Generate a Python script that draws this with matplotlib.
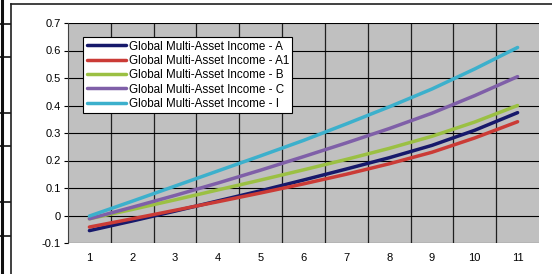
import matplotlib.pyplot as plt
from matplotlib.lines import Line2D

plt.rcParams['font.family'] = ['Liberation Sans', 'DejaVu Sans']

periods = list(range(1, 12))
series_names = [
    "Global Multi-Asset Income - A",
    "Global Multi-Asset Income - A1",
    "Global Multi-Asset Income - B",
    "Global Multi-Asset Income - C",
    "Global Multi-Asset Income - I",
]
a_vals = [-0.055, -0.020, 0.016, 0.053, 0.090, 0.129, 0.169, 0.210, 0.255, 0.310, 0.374]
a1_vals = [-0.042, -0.012, 0.019, 0.050, 0.082, 0.115, 0.150, 0.188, 0.230, 0.282, 0.341]
b_vals = [-0.012, 0.022, 0.057, 0.093, 0.129, 0.166, 0.204, 0.244, 0.288, 0.340, 0.400]
c_vals = [-0.012, 0.030, 0.073, 0.118, 0.165, 0.214, 0.264, 0.316, 0.372, 0.436, 0.505]
i_vals = [-0.002, 0.052, 0.107, 0.162, 0.217, 0.273, 0.333, 0.395, 0.460, 0.533, 0.611]
colors = ["#17196B", "#CB3B36", "#9BC043", "#7F5FA8", "#3CB0CC"]

fig = plt.figure(figsize=(5.52, 2.74), dpi=100)
ax = fig.add_axes([68 / 552, 1 - 243 / 274, 471 / 552, 220 / 274])
ax.set_facecolor("#C0C0C0")

for name, vals, col in zip(series_names, [a_vals, a1_vals, b_vals, c_vals, i_vals], colors):
    ax.plot(periods, vals, color=col, lw=2.5, label=name, solid_capstyle='round')

ax.set_xlim(0.5, 11.5)
ax.set_ylim(-0.1, 0.7)
ax.set_yticks([-0.1, 0, 0.1, 0.2, 0.3, 0.4, 0.5, 0.6, 0.7])
ax.set_yticklabels(["-0.1", "0", "0.1", "0.2", "0.3", "0.4", "0.5", "0.6", "0.7"])
ax.set_xticks(periods)
ax.set_xticklabels([str(p) for p in periods])
ax.set_xticks([p + 0.5 for p in periods[:-1]], minor=True)
ax.tick_params(axis='x', which='both', length=0, labelsize=8, pad=7)
ax.tick_params(axis='y', length=3, width=0.8, labelsize=8, pad=2)

# gridlines
ax.grid(True, axis='y', which='major', color='black', lw=0.8)
ax.grid(True, axis='x', which='minor', color='#202020', lw=0.9)
ax.grid(False, axis='x', which='major')
ax.set_axisbelow(True)

for s in ['top', 'right', 'bottom']:
    ax.spines[s].set_visible(False)
ax.spines['left'].set_color('#404040')
ax.spines['left'].set_linewidth(0.8)

leg = ax.legend(loc='upper left', bbox_to_anchor=(0.032, 0.936), fontsize=8.4,
                frameon=True, fancybox=False, edgecolor='black', framealpha=1,
                handlelength=3.4, handletextpad=0.2, labelspacing=0.2,
                borderpad=0.3, borderaxespad=0)
leg.get_frame().set_linewidth(0.8)

# chart frame and neighbouring cell edges
fig.add_artist(Line2D([11 / 552, 1], [1 - 4 / 274, 1 - 4 / 274], color='#202020', lw=1.2))
fig.add_artist(Line2D([11 / 552, 11 / 552], [0, 1 - 4 / 274], color='#202020', lw=1.2))
fig.add_artist(Line2D([1.5 / 552, 1.5 / 552], [0, 1], color='#101010', lw=2.2))
for yp in [24, 57, 113, 146, 202, 236]:
    fig.add_artist(Line2D([0, 10 / 552], [1 - yp / 274, 1 - yp / 274], color='#101010', lw=1.2))

fig.savefig("out.png", dpi=100)
